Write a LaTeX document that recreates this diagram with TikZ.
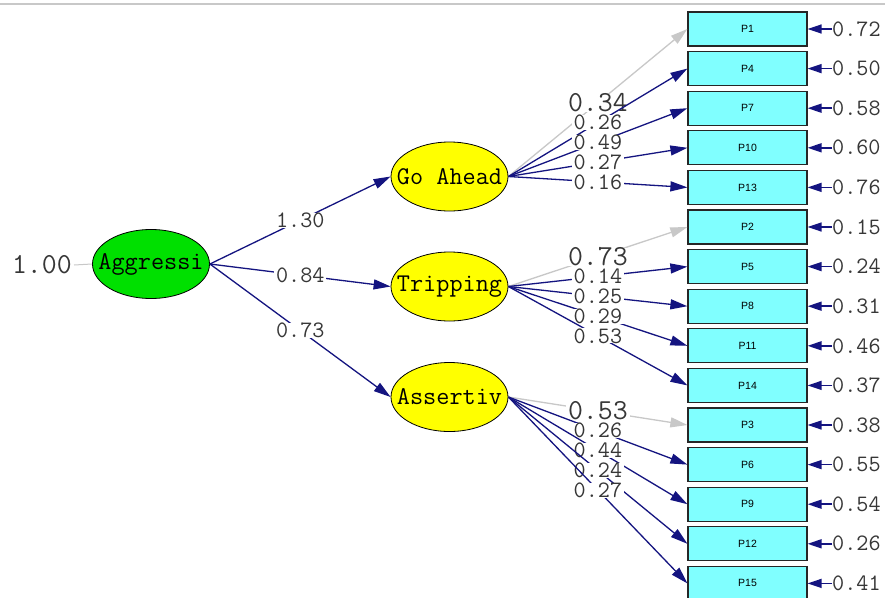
\documentclass[tikz,border=0pt]{standalone}
\usepackage{fontspec}
\newfontfamily\boxfont{Liberation Sans}
\usetikzlibrary{arrows.meta,shapes.geometric}
\definecolor{navy}{RGB}{20,20,128}
\definecolor{lgray}{RGB}{200,200,200}
\definecolor{aggreen}{RGB}{0,224,0}
\definecolor{latyellow}{RGB}{255,255,0}
\definecolor{obscyan}{RGB}{128,255,255}
\definecolor{labtext}{RGB}{55,55,55}
\begin{document}
\begin{tikzpicture}[x=1pt,y=-1pt,
  loadarr/.style={draw=navy, line width=1.3pt, -{Triangle[length=17pt,width=10pt]}},
  fixarr/.style={draw=lgray, line width=1.3pt, -{Triangle[length=17pt,width=10pt]}},
  errarr/.style={draw=navy, line width=1.5pt, -{Triangle[length=14pt,width=9pt]}},
  lab/.style={fill=white, inner xsep=2pt, inner ysep=0pt, text=labtext, font=\ttfamily\fontsize{23.5}{24}\selectfont},
  biglab/.style={lab, font=\ttfamily\fontsize{29}{30}\selectfont},
  errlab/.style={lab, fill=none, inner xsep=0pt, anchor=west},
  ellfont/.style={font=\ttfamily\fontsize{25.5}{26}\selectfont, text=black},
  latent/.style={ellipse, draw=black, line width=0.8pt, minimum width=117pt, minimum height=69pt, inner sep=0pt},
  obs/.style={rectangle, draw=black!85, line width=1.2pt, fill=obscyan, minimum width=119pt, minimum height=34pt, inner sep=0pt, font=\boxfont\fontsize{10.5}{11}\selectfont},
]
\clip (0,0) rectangle (885,597);
\fill[white] (0,0) rectangle (885,597);
\draw[lgray, line width=2pt] (0,4) -- (885,4);

% latent variables
\node[latent, fill=aggreen, label={[ellfont]center:Aggressi}] (ag) at (151,264) {};
\node[latent, fill=latyellow, label={[ellfont]center:Go Ahead}] (ga) at (449.5,176.5) {};
\node[latent, fill=latyellow, label={[ellfont]center:Tripping}] (tr) at (449.5,286.5) {};
\node[latent, fill=latyellow, label={[ellfont]center:Assertiv}] (as) at (449.5,397) {};

% variance of Aggressi
\node[biglab, fill=none, anchor=east] (agv) at (74,265) {1.00};
\draw[lgray, line width=1pt] (agv.east) -- (ag.west);

% observed variables with error variances
\foreach \n/\ev/\k in {1/0.72/0,4/0.50/1,7/0.58/2,10/0.60/3,13/0.76/4,
                       2/0.15/5,5/0.24/6,8/0.31/7,11/0.46/8,14/0.37/9,
                       3/0.38/10,6/0.55/11,9/0.54/12,12/0.26/13,15/0.41/14}{
  \pgfmathsetmacro\yy{29+39.6*\k}
  \node[obs] (p\n) at (747.5,\yy) {P\n};
  \node[errlab] (e\n) at (832,\yy) {\ev};
  \draw[errarr] (e\n.west) -- (p\n.east);
}

% structural paths
\draw[loadarr] (ag.east) -- node[lab]{1.30} (ga.west);
\draw[loadarr] (ag.east) -- node[lab]{0.84} (tr.west);
\draw[loadarr] (ag.east) -- node[lab]{0.73} (as.west);

% fixed loadings (gray)
\draw[fixarr] (ga.east) -- node[biglab]{0.34} (p1.west);
\draw[fixarr] (tr.east) -- node[biglab]{0.73} (p2.west);
\draw[fixarr] (as.east) -- node[biglab]{0.53} (p3.west);

% free loadings
\foreach \s/\t/\v in {ga/4/0.26,ga/7/0.49,ga/10/0.27,ga/13/0.16,
                      tr/5/0.14,tr/8/0.25,tr/11/0.29,tr/14/0.53,
                      as/6/0.26,as/9/0.44,as/12/0.24,as/15/0.27}{
  \draw[loadarr] (\s.east) -- node[lab]{\v} (p\t.west);
}
\end{tikzpicture}
\end{document}
